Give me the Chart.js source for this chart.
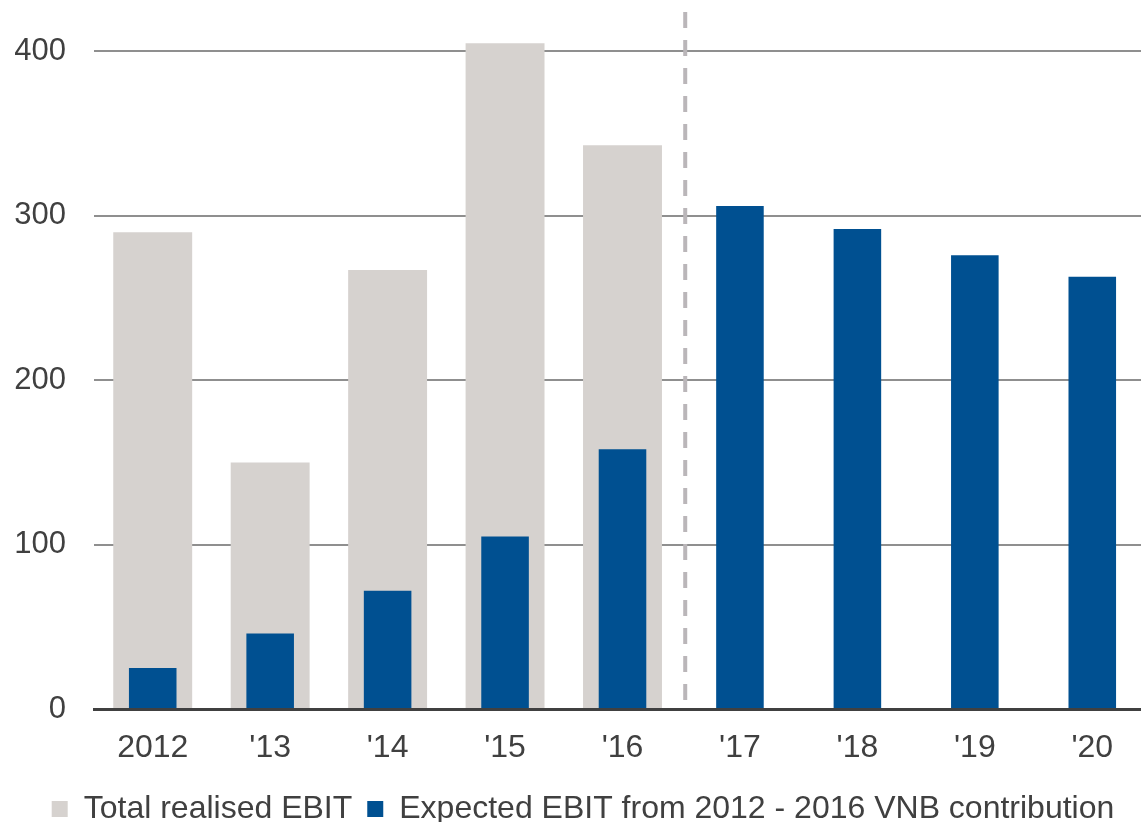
<!DOCTYPE html>
<html>
<head>
<meta charset="utf-8">
<script src="https://cdn.jsdelivr.net/npm/chart.js@4"></script>
<style>
  html, body { margin: 0; padding: 0; background: #fff; overflow: hidden; }
  #wrap { position: relative; width: 1151px; height: 822px; }
</style>
</head>
<body>
<div id="wrap"><canvas id="chart"></canvas></div>
<script>
// Categories and values
var years = ['2012', "'13", "'14", "'15", "'16", "'17", "'18", "'19", "'20"];
var totalRealised = [290, 150, 267, 405, 343, null, null, null, null];
var expectedVnb = [25, 46, 72, 105, 158, 306, 292, 276, 263];
var yTicks = [0, 100, 200, 300, 400];

var GREY = '#d6d2cf';
var BLUE = '#005091';
var TEXT = '#404040';

// Dashed divider between actuals ('16) and forecast ('17)
var dividerPlugin = {
  id: 'divider',
  afterDatasetsDraw: function (chart) {
    var x = chart.scales.x;
    var area = chart.chartArea;
    var px = (x.getPixelForValue(4) + x.getPixelForValue(5)) / 2 + 4;
    var ctx = chart.ctx;
    ctx.save();
    ctx.strokeStyle = '#bab6b9';
    ctx.lineWidth = 4;
    ctx.setLineDash([16, 12]);
    ctx.beginPath();
    ctx.moveTo(px, area.top);
    ctx.lineTo(px, area.bottom);
    ctx.stroke();
    ctx.restore();
  }
};

// drop the label overhang padding so the plot fills the canvas like the original
function noEdgePadding(scale) {
  scale.paddingTop = 0;
  scale.paddingBottom = 0;
  scale.paddingLeft = 0;
  scale.paddingRight = 0;
}

Chart.defaults.font.family = '"Liberation Sans", Arial, sans-serif';
Chart.defaults.color = TEXT;

new Chart(document.getElementById('chart'), {
  type: 'bar',
  data: {
    labels: years,
    datasets: [
      {
        label: 'Total realised EBIT',
        data: totalRealised,
        backgroundColor: GREY,
        grouped: false,
        categoryPercentage: 1,
        barPercentage: 0.672,
        order: 2
      },
      {
        label: 'Expected EBIT from 2012 - 2016 VNB contribution',
        data: expectedVnb,
        backgroundColor: BLUE,
        grouped: false,
        categoryPercentage: 1,
        barPercentage: 0.405,
        order: 1
      }
    ]
  },
  options: {
    responsive: true,
    maintainAspectRatio: false,
    animation: false,
    layout: { padding: { left: 15, top: 12, right: 0, bottom: -13 } },
    plugins: {
      tooltip: { enabled: false },
      legend: {
        position: 'bottom',
        labels: {
          font: { size: 32 },
          color: TEXT,
          boxWidth: 16,
          boxHeight: 16,
          padding: 15,
          sort: function (a, b) { return a.datasetIndex - b.datasetIndex; }
        }
      }
    },
    scales: {
      x: {
        afterFit: function (scale) {
          noEdgePadding(scale);
          scale.height = 69;
        },
        grid: { display: false, drawTicks: false },
        border: { color: TEXT, width: 3 },
        ticks: { font: { size: 32 }, color: TEXT, padding: 20 }
      },
      y: {
        min: 0,
        max: 424,
        afterFit: function (scale) {
          noEdgePadding(scale);
          scale.width = 79;
        },
        afterBuildTicks: function (scale) {
          scale.ticks = yTicks.map(function (v) { return { value: v }; });
        },
        grid: {
          drawTicks: false,
          lineWidth: 2,
          color: function (c) { return c.tick && c.tick.value === 0 ? 'rgba(0,0,0,0)' : '#8f8f8f'; }
        },
        border: { display: false },
        ticks: { font: { size: 31 }, color: TEXT, padding: 28 }
      }
    }
  },
  plugins: [dividerPlugin]
});
</script>
</body>
</html>
